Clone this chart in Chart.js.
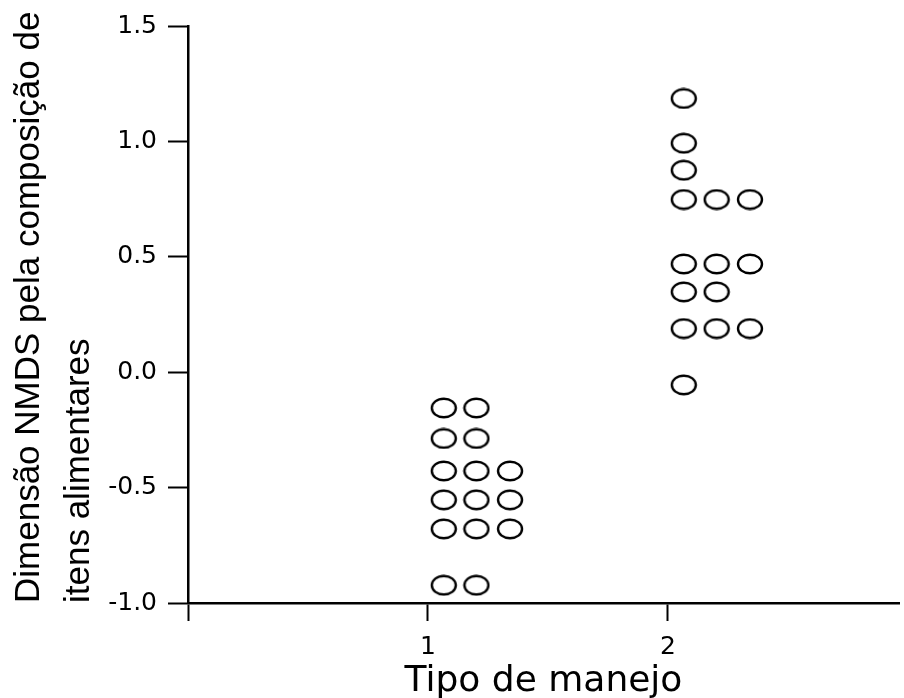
<!DOCTYPE html>
<html>
<head>
<meta charset="utf-8">
<script src="https://cdn.jsdelivr.net/npm/chart.js@4"></script>
<style>
    html, body { margin: 0; padding: 0; background: #fff; }
    canvas { display: block; }
</style>
</head>
<body>
<canvas id="dotChart" width="904" height="698"></canvas>
<script>
// Tipo de manejo 1 (x = stacked dot position, y = NMDS score)
const manejo1X = [1.066, 1.202,
                  1.066, 1.202,
                  1.066, 1.202, 1.342,
                  1.066, 1.202, 1.342,
                  1.066, 1.202, 1.342,
                  1.066, 1.202];
const manejo1Y = [-0.155, -0.155,
                  -0.287, -0.287,
                  -0.428, -0.428, -0.428,
                  -0.553, -0.553, -0.553,
                  -0.679, -0.679, -0.679,
                  -0.923, -0.923];

// Tipo de manejo 2
const manejo2X = [2.066,
                  2.066,
                  2.066,
                  2.066, 2.203, 2.342,
                  2.066, 2.203, 2.342,
                  2.066, 2.203,
                  2.066, 2.203, 2.342,
                  2.066];
const manejo2Y = [1.186,
                  0.992,
                  0.875,
                  0.748, 0.748, 0.748,
                  0.469, 0.469, 0.469,
                  0.348, 0.348,
                  0.189, 0.189, 0.189,
                  -0.055];

const xTicks = [0, 1, 2];
const xTickLabels = ["", "1", "2"];
const yTicks = [-1.0, -0.5, 0.0, 0.5, 1.0, 1.5];

const xTitle = "Tipo de manejo";
const yTitle = ["Dimensão NMDS pela composição de", "itens alimentares"];

// open ellipse marker like the original dot plot
function makeMarker() {
    const c = document.createElement("canvas");
    c.width = 28;
    c.height = 22;
    const g = c.getContext("2d");
    g.strokeStyle = "#000";
    g.lineWidth = 2.4;
    g.beginPath();
    g.ellipse(14, 11, 12, 9.3, 0, 0, Math.PI * 2);
    g.stroke();
    return c;
}
const marker = makeMarker();

function toPoints(xs, ys) {
    return xs.map((x, i) => ({ x: x, y: ys[i] }));
}

Chart.defaults.color = "#000";

const ctx = document.getElementById("dotChart").getContext("2d");
new Chart(ctx, {
    type: "scatter",
    data: {
        datasets: [
            { label: "1", data: toPoints(manejo1X, manejo1Y), pointStyle: marker },
            { label: "2", data: toPoints(manejo2X, manejo2Y), pointStyle: marker }
        ]
    },
    options: {
        responsive: false,
        animation: false,
        layout: { padding: { top: 22, right: 0, bottom: 0, left: 0 } },
        plugins: {
            legend: { display: false },
            tooltip: { enabled: false }
        },
        scales: {
            x: {
                type: "linear",
                min: 0,
                max: 2.963,
                afterBuildTicks: (scale) => {
                    scale.ticks = xTicks.map(v => ({ value: v }));
                },
                afterFit: (scale) => { scale.height = 95; },
                ticks: {
                    padding: 11,
                    font: { family: "DejaVu Sans", size: 25 },
                    callback: (value) => xTickLabels[xTicks.indexOf(value)] ?? ""
                },
                grid: {
                    drawOnChartArea: false,
                    tickLength: 18,
                    tickWidth: 2,
                    tickColor: "#000"
                },
                border: { display: true, color: "#000", width: 2.5 },
                title: {
                    display: true,
                    text: xTitle,
                    font: { family: "DejaVu Sans", size: 36 },
                    padding: { top: 0, bottom: -5 }
                }
            },
            y: {
                type: "linear",
                min: -1.0,
                max: 1.5,
                afterBuildTicks: (scale) => {
                    scale.ticks = yTicks.map(v => ({ value: v }));
                },
                afterFit: (scale) => { scale.width = 188; },
                ticks: {
                    padding: 11,
                    font: { family: "DejaVu Sans", size: 25 },
                    callback: (value) => value.toFixed(1)
                },
                grid: {
                    drawOnChartArea: false,
                    tickLength: 20,
                    tickWidth: 2,
                    tickColor: "#000"
                },
                border: { display: true, color: "#000", width: 2.5 },
                title: {
                    display: true,
                    text: yTitle,
                    align: "start",
                    font: { family: "Liberation Sans", size: 35, lineHeight: 1.43 },
                    padding: { top: 4, bottom: 0 }
                }
            }
        }
    }
});
</script>
</body>
</html>
